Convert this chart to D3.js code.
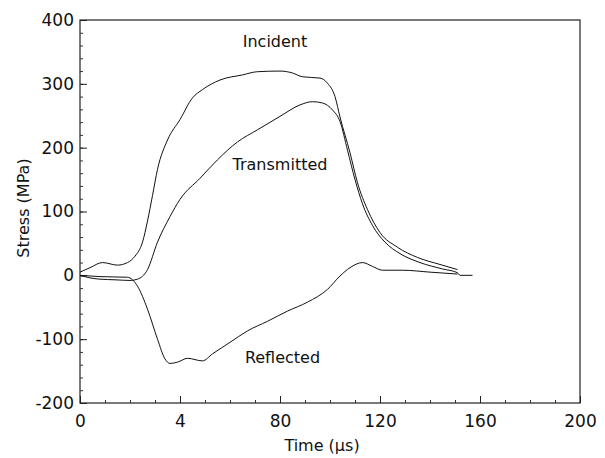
<!DOCTYPE html>
<html>
<head>
<meta charset="utf-8">
<script src="https://cdn.jsdelivr.net/npm/d3@7"></script>
<style>
html,body{margin:0;padding:0;background:#fff;}
svg{display:block;}
text{font-family:"DejaVu Sans",sans-serif;fill:#111;}
</style>
</head>
<body>
<svg id="chart" width="605" height="458"></svg>
<script>
// ---- data ----
const incidentT = [0,4,9,15,19,22,25,27,29,31,35,40,45,49,56,65,71,80,85,89,96,99,102,104,108,111,115,120,127,135,144,151];
const incidentS = [5,12,20,16,20,30,52,85,125,166,212,244,278,291,306,314,319,320,317,311,309,301,280,248,192,145,103,67,44,28,17,9];

const transmittedT = [0,4,8,14,20,23,27,31,36,40,48,55,63,71,80,88,93,97,101,104,107,110,113,117,122,128,136,145,151,152,157];
const transmittedS = [0,-4,-6,-7,-8,-6,9,52,92,119,152,181,209,228,249,267,272,270,259,241,196,150,112,78,52,34,20,10,4,0,0];

const reflectedT = [0,8,19,23,27,31,34,36,39,43,49,53,60,67,75,83,91,99,104,108,113,117,121,129,140,151];
const reflectedS = [0,-2,-3,-17,-53,-100,-131,-138,-136,-130,-134,-123,-105,-87,-72,-56,-42,-22,-1,12,20,14,8,8,5,2];

const xTickValues = [0,40,80,120,160,200];
const xTickLabels = ["0","4","80","120","160","200"];
const yTickValues = [-200,-100,0,100,200,300,400];
const yTickLabels = ["-200","-100","0","100","200","300","400"];

const seriesLabels = [
  {text:"Incident", t:78, s:358},
  {text:"Transmitted", t:80, s:165},
  {text:"Reflected", t:81, s:-138}
];

// ---- layout ----
const svg = d3.select("#chart");
const L = 80, R = 580, T = 20, B = 403;
const x = d3.scaleLinear().domain([0,200]).range([L,R]);
const y = d3.scaleLinear().domain([-200,400]).range([B,T]);

// frame
svg.append("rect").attr("x",L).attr("y",T).attr("width",R-L).attr("height",B-T)
  .attr("fill","none").attr("stroke","#222").attr("stroke-width",1.2);

// axes with inward ticks
const gx = svg.append("g").attr("transform",`translate(0,${B})`)
  .call(d3.axisBottom(x).tickValues(d3.range(0,201,10)).tickSize(-3).tickFormat(""));
gx.select(".domain").remove();
gx.selectAll(".tick line").attr("stroke","#333");
const gx2 = svg.append("g").attr("transform",`translate(0,${B})`)
  .call(d3.axisBottom(x).tickValues(xTickValues).tickSize(-7).tickPadding(12)
    .tickFormat((d,i)=>xTickLabels[i]));
gx2.select(".domain").remove();
gx2.selectAll(".tick line").attr("stroke","#222");
gx2.selectAll("text").attr("font-size",17).attr("fill","#111").attr("font-family","DejaVu Sans, sans-serif");

const gy = svg.append("g").attr("transform",`translate(${L},0)`)
  .call(d3.axisLeft(y).tickValues(d3.range(-200,401,20)).tickSize(-3).tickFormat(""));
gy.select(".domain").remove();
gy.selectAll(".tick line").attr("stroke","#333");
const gy2 = svg.append("g").attr("transform",`translate(${L},0)`)
  .call(d3.axisLeft(y).tickValues(yTickValues).tickSize(-7).tickPadding(6)
    .tickFormat((d,i)=>yTickLabels[i]));
gy2.select(".domain").remove();
gy2.selectAll(".tick line").attr("stroke","#222");
gy2.selectAll("text").attr("font-size",17).attr("fill","#111").attr("font-family","DejaVu Sans, sans-serif");

// axis titles
svg.append("text").attr("x",322).attr("y",451).attr("text-anchor","middle")
  .attr("font-size",16).text("Time (µs)");
svg.append("text").attr("transform","translate(29,208) rotate(-90)").attr("text-anchor","middle")
  .attr("font-size",16).text("Stress (MPa)");

// lines
const line = d3.line().x(d=>x(d[0])).y(d=>y(d[1])).curve(d3.curveMonotoneX);
function draw(ts, ss){
  const pts = ts.map((t,i)=>[t, ss[i]]);
  svg.append("path").datum(pts).attr("d",line)
    .attr("fill","none").attr("stroke","#111").attr("stroke-width",1);
}
draw(incidentT, incidentS);
draw(transmittedT, transmittedS);
draw(reflectedT, reflectedS);

// labels
seriesLabels.forEach(l=>{
  svg.append("text").attr("x",x(l.t)).attr("y",y(l.s)).attr("text-anchor","middle")
    .attr("font-size",16).text(l.text);
});
</script>
</body>
</html>
